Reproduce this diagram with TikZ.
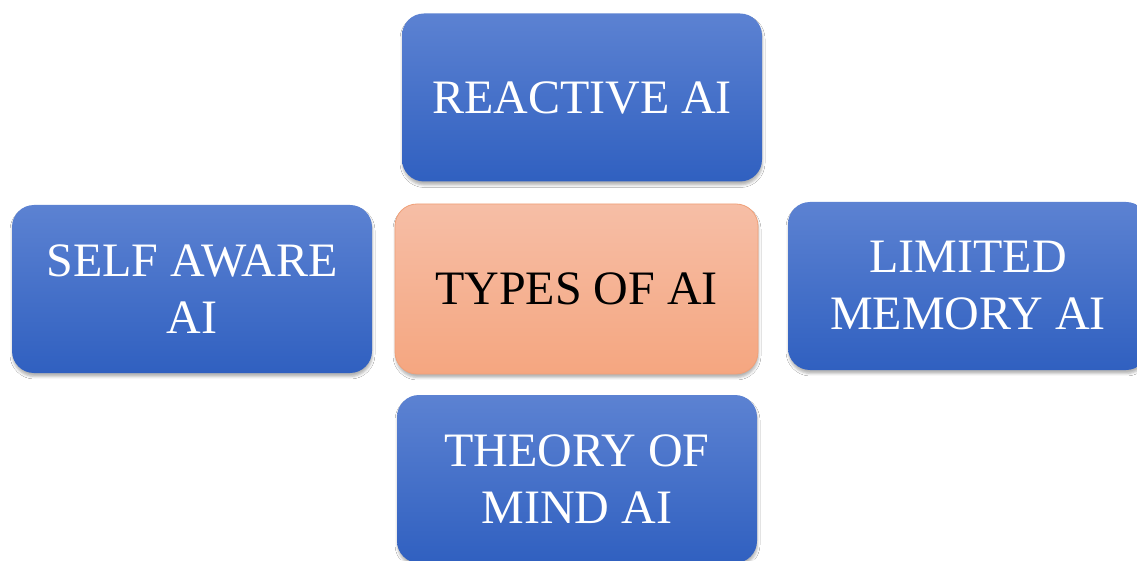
\documentclass[tikz,border=0pt]{standalone}
\usepackage{fontspec}
\setmainfont{Liberation Serif}
\usetikzlibrary{shadows.blur}
\definecolor{bluetop}{RGB}{92,130,210}
\definecolor{bluebot}{RGB}{48,96,192}
\definecolor{salmontop}{RGB}{246,190,166}
\definecolor{salmonbot}{RGB}{245,166,128}
\definecolor{salmonedge}{RGB}{240,160,120}
\tikzset{
  card/.style={rounded corners=22pt, minimum width=360pt, minimum height=168pt,
    inner sep=0pt, align=center, font=\fontsize{48}{57}\selectfont,
    blur shadow={shadow xshift=0.5pt, shadow yshift=-3.5pt, shadow blur radius=2.5pt, shadow opacity=30}},
  bluecard/.style={card, top color=bluetop, bottom color=bluebot, text=white},
  hubcard/.style={card, minimum width=363pt, minimum height=170pt,
    top color=salmontop, bottom color=salmonbot, draw=salmonedge, line width=0.8pt, text=black},
  twoline/.style={text height=62pt}
}
\begin{document}
\begin{tikzpicture}[x=1pt,y=1pt]
  \useasboundingbox (0,0) rectangle (1137,560);
  \clip (0,0) rectangle (1137,560);
  \fill[white] (0,0) rectangle (1137,560);
  % centre topic and the four kinds around it
  \node[hubcard] (hub) at (576.5,271) {TYPES OF AI};
  \node[bluecard] (reactive) at (582,462.5) {REACTIVE AI};
  \node[bluecard] (limited) at (968,274) {LIMITED\\MEMORY AI};
  \node[bluecard] (selfaware) at (192,271) {SELF AWARE\\AI};
  \node[bluecard] (theory) at (577,81) {THEORY OF\\MIND AI};
\end{tikzpicture}
\end{document}
